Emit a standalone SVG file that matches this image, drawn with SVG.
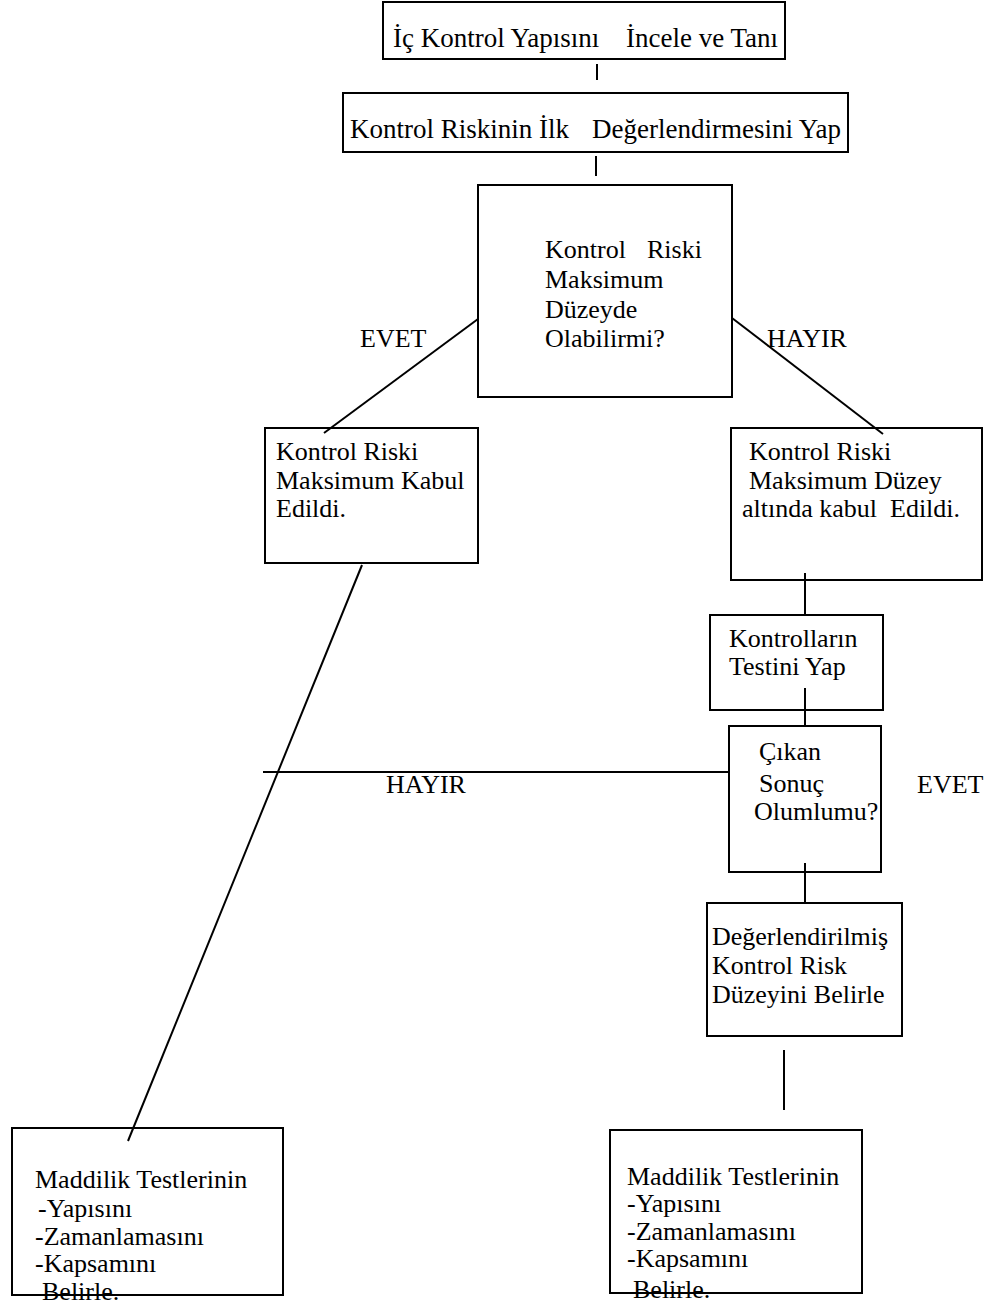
<svg xmlns="http://www.w3.org/2000/svg" width="999" height="1303" viewBox="0 0 999 1303">
<style>
.b{fill:none;stroke:#000;stroke-width:2}
.c{stroke:#000;stroke-width:2;fill:none}
text{font-family:"Liberation Serif","Times New Roman",serif;font-size:26px;fill:#000}
.h{font-size:27px}
</style>
<rect width="999" height="1303" fill="#fff"/>
<g id="connectors">
<line class="c" x1="597" y1="64" x2="597" y2="80"/>
<line class="c" x1="596" y1="156" x2="596" y2="176"/>
<line class="c" x1="478" y1="319" x2="324" y2="433"/>
<line class="c" x1="732" y1="318" x2="883" y2="434"/>
<line class="c" x1="362" y1="565" x2="128" y2="1141"/>
<line class="c" x1="805" y1="573" x2="805" y2="615"/>
<line class="c" x1="805" y1="688" x2="805" y2="726"/>
<line class="c" x1="263" y1="772" x2="729" y2="772"/>
<line class="c" x1="805" y1="863" x2="805" y2="903"/>
<line class="c" x1="784" y1="1050" x2="784" y2="1110"/>
<text x="360" y="347">EVET</text>
<text x="767" y="347">HAYIR</text>
<text x="386" y="793">HAYIR</text>
<text x="917" y="793">EVET</text>
</g>
<g id="n1">
<rect class="b" x="383" y="2" width="402" height="57"/>
<text class="h" x="393" y="47">İç Kontrol Yapısını</text>
<text class="h" x="626" y="47">İncele ve Tanı</text>
</g>
<g id="n2">
<rect class="b" x="343" y="93" width="505" height="59"/>
<text class="h" x="350" y="138">Kontrol Riskinin İlk</text>
<text class="h" x="592" y="138">Değerlendirmesini Yap</text>
</g>
<g id="n3">
<rect class="b" x="478" y="185" width="254" height="212"/>
<text x="545" y="258">Kontrol</text>
<text x="647" y="258">Riski</text>
<text x="545" y="288">Maksimum</text>
<text x="545" y="318">Düzeyde</text>
<text x="545" y="347">Olabilirmi?</text>
</g>
<g id="n4">
<rect class="b" x="265" y="428" width="213" height="135"/>
<text x="276" y="460">Kontrol Riski</text>
<text x="276" y="489">Maksimum Kabul</text>
<text x="276" y="517">Edildi.</text>
</g>
<g id="n5">
<rect class="b" x="731" y="428" width="251" height="152"/>
<text x="749" y="460">Kontrol Riski</text>
<text x="749" y="489">Maksimum Düzey</text>
<text x="742" y="517" xml:space="preserve">altında kabul  Edildi.</text>
</g>
<g id="n6">
<rect class="b" x="710" y="615" width="173" height="95"/>
<text x="729" y="647">Kontrolların</text>
<text x="729" y="675">Testini Yap</text>
</g>
<g id="n7">
<rect class="b" x="729" y="726" width="152" height="146"/>
<text x="759" y="760">Çıkan</text>
<text x="759" y="792">Sonuç</text>
<text x="754" y="820">Olumlumu?</text>
</g>
<g id="n8">
<rect class="b" x="707" y="903" width="195" height="133"/>
<text x="712" y="945">Değerlendirilmiş</text>
<text x="712" y="974">Kontrol Risk</text>
<text x="712" y="1003">Düzeyini Belirle</text>
</g>
<g id="n9">
<text x="35" y="1188">Maddilik Testlerinin</text>
<text x="38" y="1217">-Yapısını</text>
<text x="35" y="1245">-Zamanlamasını</text>
<text x="35" y="1272">-Kapsamını</text>
<text x="42" y="1300">Belirle.</text>
<rect class="b" x="12" y="1128" width="271" height="167"/>
</g>
<g id="n10">
<text x="627" y="1185">Maddilik Testlerinin</text>
<text x="627" y="1212">-Yapısını</text>
<text x="627" y="1240">-Zamanlamasını</text>
<text x="627" y="1267">-Kapsamını</text>
<text x="633" y="1298">Belirle.</text>
<rect class="b" x="610" y="1130" width="252" height="163"/>
</g>
</svg>
